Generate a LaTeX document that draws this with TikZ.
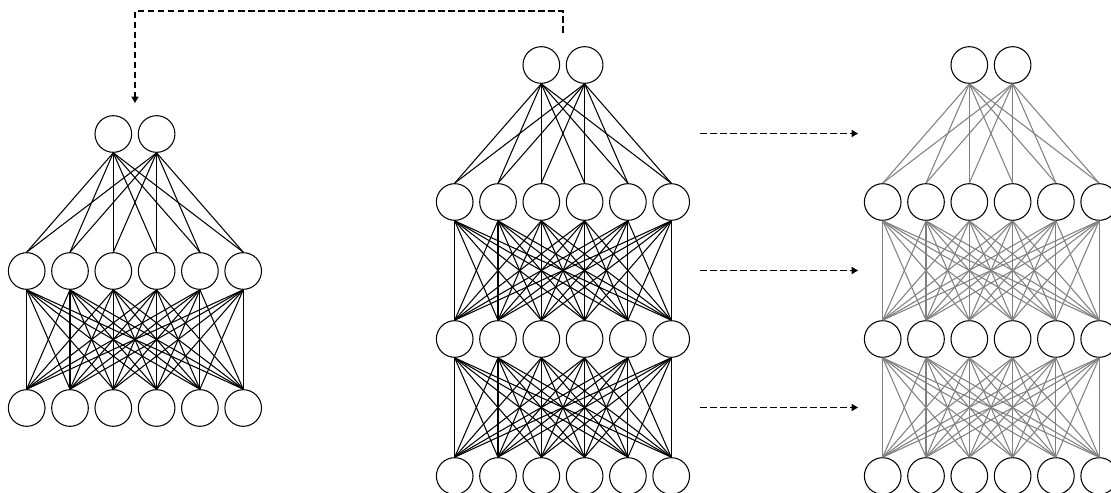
\documentclass[tikz,border=0pt]{standalone}
\usetikzlibrary{arrows.meta}

\begin{document}
\begin{tikzpicture}[x=0.02cm, y=-0.02cm,
    neuron/.style={circle, draw=black, line width=0.6pt,
                   minimum size=0.733cm, inner sep=0pt},
    link/.style={line width=0.6pt, black},
    faded/.style={line width=0.6pt, black!50},
    flow/.style={-{Triangle[length=3.6pt,width=4pt]}, line width=0.75pt,
                 dash pattern=on 3.8pt off 1.9pt}
  ]
  \useasboundingbox (0,0) rectangle (1111,493);

  % left network
  \foreach \i in {1,...,6} {
    \node[neuron] (a0\i) at ({26.7+43.3*(\i-1)},408) {};
    \node[neuron] (a1\i) at ({26.7+43.3*(\i-1)},271) {};
  }
  \node[neuron] (a21) at (113.3,134) {};
  \node[neuron] (a22) at (156.6,134) {};
  \foreach \i in {1,...,6}
    \foreach \j in {1,...,6}
      \draw[link] (a1\i.south) -- (a0\j.north);
  \foreach \i in {1,2}
    \foreach \j in {1,...,6}
      \draw[link] (a2\i.south) -- (a1\j.north);

  % middle and right networks
  \foreach \net/\xo/\ln in {b/454.7/link, c/882.7/faded} {
    \foreach \i in {1,...,6} {
      \node[neuron] (\net0\i) at ({\xo+43.3*(\i-1)},476) {};
      \node[neuron] (\net1\i) at ({\xo+43.3*(\i-1)},339) {};
      \node[neuron] (\net2\i) at ({\xo+43.3*(\i-1)},202) {};
    }
    \node[neuron] (\net31) at ({\xo+86.6},65) {};
    \node[neuron] (\net32) at ({\xo+129.9},65) {};
    \foreach \i in {1,...,6}
      \foreach \j in {1,...,6} {
        \draw[\ln] (\net1\i.south) -- (\net0\j.north);
        \draw[\ln] (\net2\i.south) -- (\net1\j.north);
      }
    \foreach \i in {1,2}
      \foreach \j in {1,...,6}
        \draw[\ln] (\net3\i.south) -- (\net2\j.north);
  }

  % copy arrows
  \foreach \y/\n in {133.5/t, 270.5/m, 407.5/b} {
    \coordinate (cp\n-s) at (700,\y);
    \coordinate (cp\n-e) at (858,\y);
    \draw[flow] (cp\n-s) -- (cp\n-e);
  }

  % feedback arrow
  \coordinate (fb-s) at (563,33);
  \coordinate (fb-e) at (135,103);
  \draw[flow] (fb-s) -- ++(0,-22) -| (fb-e);
\end{tikzpicture}
\end{document}
